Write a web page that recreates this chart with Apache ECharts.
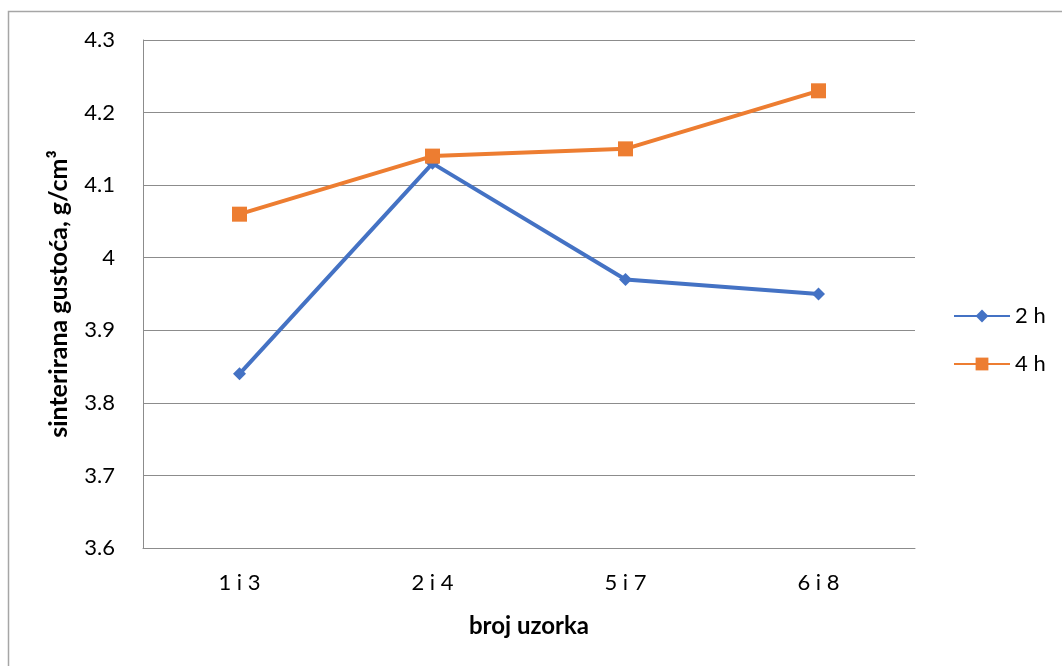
<!DOCTYPE html>
<html><head><meta charset="utf-8">
<script src="https://cdn.jsdelivr.net/npm/echarts@6/dist/echarts.min.js"></script>
<style>html,body{margin:0;padding:0;background:#fff}#c{width:1062px;height:666px}</style>
</head><body><div id="c"></div>
<script>
const categories = ['1 i 3', '2 i 4', '5 i 7', '6 i 8'];
const series2h = [3.84, 4.13, 3.97, 3.95];
const series4h = [4.06, 4.14, 4.15, 4.23];
const yTicks = {min: 3.6, max: 4.3, interval: 0.1};
const FONT = 'Lato, "Open Sans", sans-serif';
const chart = echarts.init(document.getElementById('c'));
chart.setOption({
  animation: false,
  backgroundColor: '#fff',
  graphic: [{type: 'rect', shape: {x: 8.5, y: 11.5, width: 1200, height: 800}, style: {fill: 'none', stroke: '#a6a6a6', lineWidth: 1.5}}],
  grid: {left: 143, right: 147, top: 40, bottom: 118},
  legend: {
    orient: 'vertical', left: 948, top: 300, itemGap: 26, itemWidth: 56, itemHeight: 16,
    textStyle: {fontFamily: FONT, fontSize: 22, color: '#000'},
    data: ['2 h', '4 h']
  },
  xAxis: {
    type: 'category', data: categories, boundaryGap: true,
    axisLine: {lineStyle: {color: '#8c8c8c', width: 1}},
    axisTick: {show: false},
    axisLabel: {fontFamily: FONT, fontSize: 22, color: '#000', margin: 24},
    name: 'broj uzorka', nameLocation: 'middle', nameGap: 66,
    nameTextStyle: {fontFamily: FONT, fontSize: 24, fontWeight: 'bold', color: '#000'}
  },
  yAxis: {
    type: 'value', min: yTicks.min, max: yTicks.max, interval: yTicks.interval,
    axisLine: {show: true, lineStyle: {color: '#8c8c8c', width: 1}},
    axisTick: {show: false},
    splitLine: {lineStyle: {color: '#8c8c8c', width: 1}},
    axisLabel: {fontFamily: FONT, fontSize: 22, color: '#000', margin: 28,
      formatter: v => String(parseFloat(v.toFixed(1)))},
    name: 'sinterirana gustoća, g/cm³', nameLocation: 'middle', nameGap: 72,
    nameTextStyle: {fontFamily: FONT, fontSize: 25, fontWeight: 'bold', color: '#000'}
  },
  series: [
    {name: '2 h', type: 'line', data: series2h, symbol: 'diamond', symbolSize: 13,
     itemStyle: {color: '#4472C4'}, lineStyle: {color: '#4472C4', width: 4}},
    {name: '4 h', type: 'line', data: series4h, symbol: 'rect', symbolSize: 15,
     itemStyle: {color: '#ED7D31'}, lineStyle: {color: '#ED7D31', width: 4}}
  ]
});
</script></body></html>
